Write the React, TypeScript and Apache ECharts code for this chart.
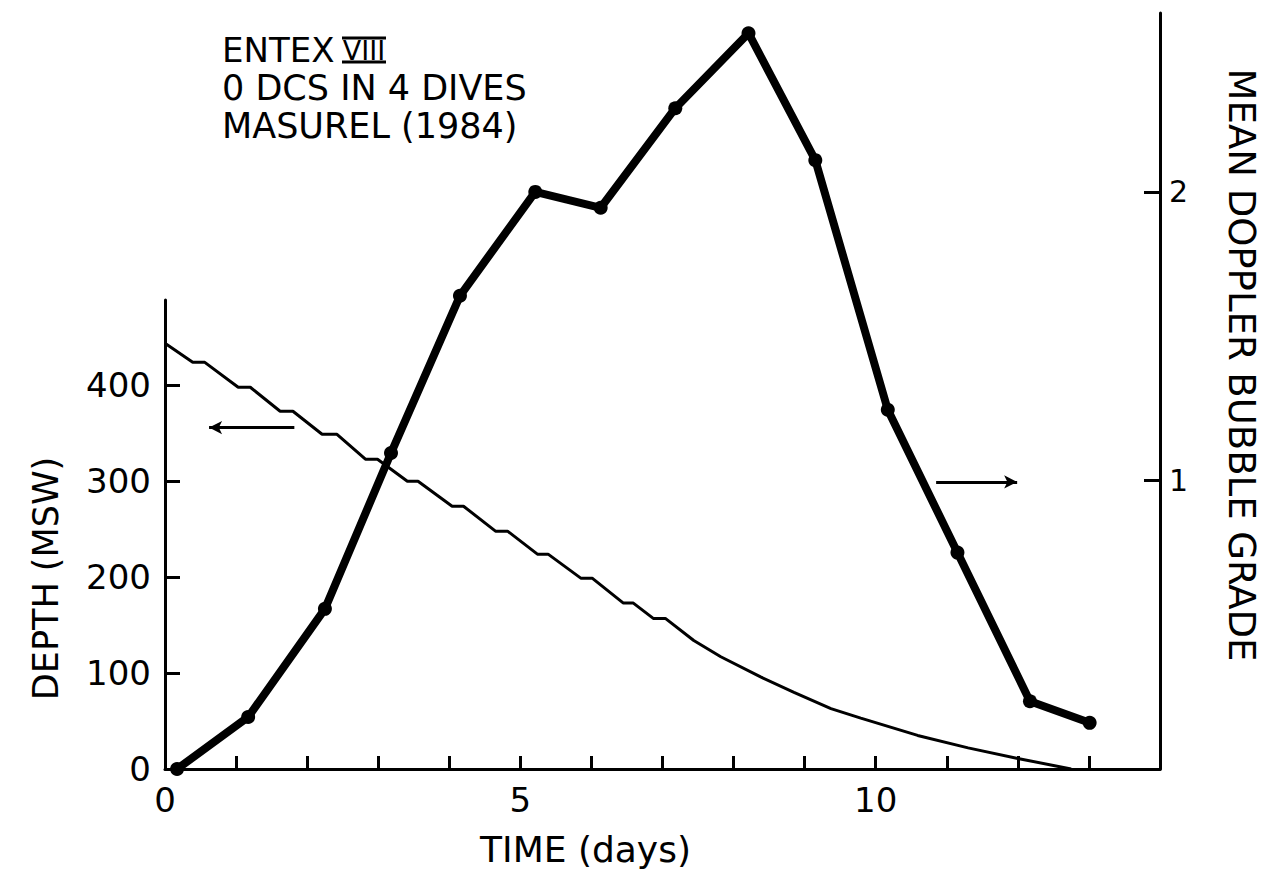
import React, { useEffect, useRef } from "react";
import * as echarts from "echarts";

// ---- data ----
const depthDays = [0, 0.39, 0.56, 1.03, 1.2, 1.62, 1.8, 2.21, 2.42, 2.82, 2.99, 3.41, 3.56, 4.04, 4.2, 4.65, 4.82, 5.24, 5.39, 5.85, 6.01, 6.45, 6.59, 6.87, 7.04, 7.44, 7.82, 8.38, 8.85, 9.37, 9.79, 10.59, 11.3, 12.0, 12.75];
const depthMsw = [444, 424, 424, 398, 398, 373, 373, 349, 349, 323, 323, 300, 300, 274, 274, 248, 248, 224, 224, 199, 199, 173, 173, 157, 157, 134, 117, 96, 80, 63, 53, 35, 22, 11, 0];

const bubbleDays = [0.17, 1.17, 2.25, 3.18, 4.15, 5.21, 6.13, 7.18, 8.21, 9.15, 10.17, 11.15, 12.17, 13.01];
const bubbleGrade = [0, 0.18, 0.555, 1.095, 1.64, 2.0, 1.945, 2.29, 2.55, 2.11, 1.245, 0.75, 0.235, 0.16];

const dayTicks = [1, 2, 3, 4, 5, 6, 7, 8, 9, 10, 11, 12, 13];
const dayLabels = [0, 5, 10];
const depthTicks = [0, 100, 200, 300, 400];
const gradeTicks = [1, 2];

const titleMain = "ENTEX";
const titleRoman = "VIII";
const titleLine2 = "0 DCS IN 4 DIVES";
const titleLine3 = "MASUREL (1984)";

// arrows pointing to the axis each curve belongs to (data coordinates)
const depthArrowFrom = [1.82, 356];
const depthArrowTo = [0.62, 356];
const gradeArrowFrom = [10.85, 0.995];
const gradeArrowTo = [11.99, 0.995];

const FONT = '"DejaVu Sans", "Liberation Sans", sans-serif';

export default function App() {
  const ref = useRef<HTMLDivElement>(null);

  useEffect(() => {
    if (!ref.current) return;
    const chart = echarts.init(ref.current, null, { renderer: "svg" });

    const axisLine = { show: true, onZero: false, lineStyle: { color: "#000", width: 3 } };
    const axisTickStyle = { color: "#000", width: 3 };

    const option: any = {
      animation: false,
      backgroundColor: "#fff",
      grid: [
        { left: 165, right: 111, top: 300, bottom: 117, containLabel: false, outerBoundsMode: "none" },
        { left: 165, right: 111, top: 13, bottom: 117, containLabel: false, outerBoundsMode: "none" },
      ],
      xAxis: [
        {
          type: "value",
          gridIndex: 0,
          min: 0,
          max: 14,
          position: "bottom",
          axisLine,
          axisTick: { show: true, inside: true, length: 13, lineStyle: axisTickStyle, customValues: dayTicks },
          axisLabel: {
            show: true,
            customValues: dayLabels,
            margin: 14,
            color: "#000",
            fontFamily: FONT,
            fontSize: 34,
          },
          splitLine: { show: false },
          name: "TIME (days)",
          nameLocation: "middle",
          nameGap: 62,
          nameMoveOverlap: false,
          nameTextStyle: { color: "#000", fontFamily: FONT, fontSize: 36, padding: [0, 154, 0, 0] },
        },
        {
          type: "value",
          gridIndex: 1,
          min: 0,
          max: 14,
          show: false,
        },
      ],
      yAxis: [
        {
          type: "value",
          gridIndex: 0,
          min: 0,
          max: 489,
          position: "left",
          axisLine,
          axisTick: { show: true, inside: true, length: 15, lineStyle: axisTickStyle, customValues: depthTicks },
          axisLabel: {
            show: true,
            customValues: depthTicks,
            margin: 14,
            color: "#000",
            fontFamily: FONT,
            fontSize: 34,
          },
          splitLine: { show: false },
          name: "DEPTH (MSW)",
          nameLocation: "middle",
          nameRotate: 90,
          nameGap: 102,
          nameMoveOverlap: false,
          nameTextStyle: { color: "#000", fontFamily: FONT, fontSize: 35, padding: [0, 88, 0, 0] },
        },
        {
          type: "value",
          gridIndex: 1,
          min: 0,
          max: 2.62,
          position: "right",
          axisLine,
          axisTick: { show: true, inside: true, length: 16, lineStyle: axisTickStyle, customValues: gradeTicks },
          axisLabel: {
            show: true,
            customValues: gradeTicks,
            margin: 9,
            color: "#000",
            fontFamily: FONT,
            fontSize: 30,
          },
          splitLine: { show: false },
          name: "MEAN DOPPLER BUBBLE GRADE",
          nameLocation: "middle",
          nameRotate: -90,
          nameGap: 63,
          nameMoveOverlap: false,
          nameTextStyle: { color: "#000", fontFamily: FONT, fontSize: 37, padding: [0, 52, 0, 0] },
        },
      ],
      series: [
        {
          name: "Depth",
          type: "line",
          xAxisIndex: 0,
          yAxisIndex: 0,
          data: depthDays.map((d, i) => [d, depthMsw[i]]),
          symbol: "none",
          lineStyle: { color: "#000", width: 3 },
          z: 2,
          markLine: {
            silent: true,
            symbol: ["none", "arrow"],
            symbolSize: [10, 13],
            lineStyle: { color: "#000", width: 3, type: "solid" },
            label: { show: false },
            data: [[{ coord: depthArrowFrom }, { coord: depthArrowTo }]],
          },
        },
        {
          name: "Bubble grade",
          type: "line",
          xAxisIndex: 1,
          yAxisIndex: 1,
          data: bubbleDays.map((d, i) => [d, bubbleGrade[i]]),
          symbol: "circle",
          symbolSize: 14,
          showAllSymbol: true,
          lineStyle: { color: "#000", width: 8 },
          itemStyle: { color: "#000" },
          z: 3,
          markLine: {
            silent: true,
            symbol: ["none", "arrow"],
            symbolSize: [10, 13],
            lineStyle: { color: "#000", width: 3, type: "solid" },
            label: { show: false },
            data: [[{ coord: gradeArrowFrom }, { coord: gradeArrowTo }]],
          },
        },
      ],
      graphic: [
        {
          type: "text",
          x: 222,
          y: 50,
          style: { text: titleMain, fill: "#000", fontFamily: FONT, fontSize: 34, verticalAlign: "middle", align: "left" },
        },
        {
          type: "text",
          x: 364,
          y: 50,
          style: { text: titleRoman, fill: "#000", fontFamily: FONT, fontSize: 27, verticalAlign: "middle", align: "center" },
        },
        { type: "line", shape: { x1: 342, y1: 38, x2: 386, y2: 38 }, style: { stroke: "#000", lineWidth: 3 } },
        { type: "line", shape: { x1: 342, y1: 62, x2: 386, y2: 62 }, style: { stroke: "#000", lineWidth: 3 } },
        {
          type: "text",
          x: 222,
          y: 88,
          style: { text: titleLine2, fill: "#000", fontFamily: FONT, fontSize: 35, verticalAlign: "middle", align: "left" },
        },
        {
          type: "text",
          x: 222,
          y: 126,
          style: { text: titleLine3, fill: "#000", fontFamily: FONT, fontSize: 35, verticalAlign: "middle", align: "left" },
        },
      ],
    };

    chart.setOption(option);
    return () => chart.dispose();
  }, []);

  return (
    <div
      ref={ref}
      style={{ position: "fixed", left: 0, top: 0, width: 1271, height: 886, background: "#fff" }}
    />
  );
}
